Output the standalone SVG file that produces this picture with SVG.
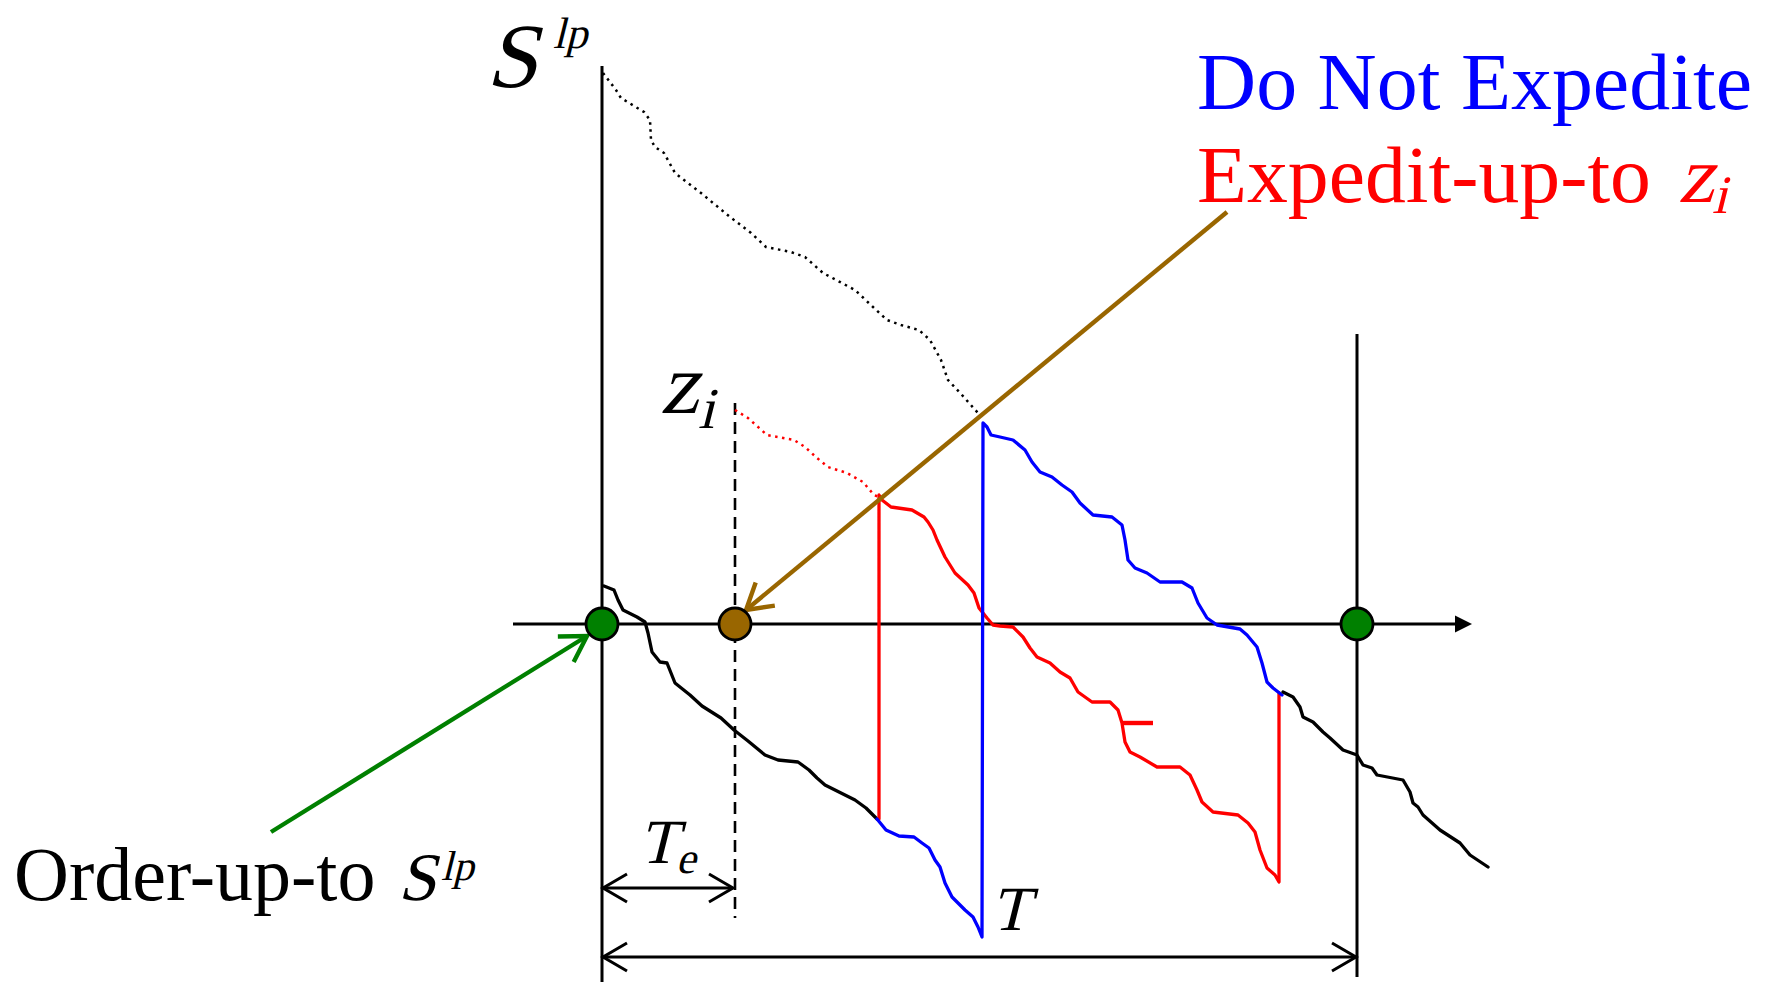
<svg xmlns="http://www.w3.org/2000/svg" width="1772" height="982" viewBox="0 0 1772 982">
<style>
.ax{stroke:#000;stroke-width:3;fill:none}
.crv{fill:none;stroke-width:3.3;stroke-linejoin:round;stroke-linecap:round}
.dot{fill:none;stroke-width:2.5;stroke-dasharray:2.5 4.5;stroke-linecap:butt}
.node{stroke:#000;stroke-width:2.8}
text{font-family:'Liberation Serif';font-style:normal}
</style>
<defs>
<marker id="chevK" markerUnits="userSpaceOnUse" markerWidth="40" markerHeight="40" viewBox="-30 -20 40 40" refX="0" refY="0" orient="auto-start-reverse">
<path d="M-24,-14 L0,0 L-24,14" fill="none" stroke="#000" stroke-width="3"/>
</marker>
<marker id="chevG" markerUnits="userSpaceOnUse" markerWidth="40" markerHeight="40" viewBox="-30 -20 40 40" refX="0" refY="0" orient="auto">
<path d="M-25,-15 L0,0 L-25,15" fill="none" stroke="#008000" stroke-width="4.4"/>
</marker>
<marker id="chevB" markerUnits="userSpaceOnUse" markerWidth="40" markerHeight="40" viewBox="-30 -20 40 40" refX="0" refY="0" orient="auto">
<path d="M-25,-15 L0,0 L-25,15" fill="none" stroke="#996600" stroke-width="4.4"/>
</marker>
</defs>
<rect width="1772" height="982" fill="#fff"/>

<g id="axes">
<line class="ax" x1="602" y1="66" x2="602" y2="982"/>
<line class="ax" x1="513" y1="624" x2="1460" y2="624"/>
<polygon points="1472,624 1455,615.5 1455,632.5" fill="#000"/>
<line class="ax" x1="1357" y1="334" x2="1357" y2="977"/>
<line x1="735" y1="403" x2="735" y2="918" stroke="#000" stroke-width="2.6" stroke-dasharray="12 7"/>
</g>

<g id="curves">
<polyline class="dot" stroke="#000" points="603,73 616,90 621,98 644,112 650,120 651,140 655,147 664,153 675,173 701,193 730,217 751,233 766,247 791,252 805,257 823,273 855,290 873,307 887,320 901,325 919,330 930,340 941,360 948,380 962,395 978,413 980,417"/>
<polyline class="dot" stroke="#ff0000" points="735,410 748,418 767,435 794,440 805,447 817,458 828,467 847,473 863,482 874,495 879,497"/>
<polyline class="crv" stroke="#000" points="604,586 614,590 618,600 623,610 637,617 645,622 648,633 652,652 660,662 667,663 675,683 690,695 702,706 721,718 734,730 748,741 765,755 778,760 798,762 809,770 817,778 825,785 855,800 866,808 877,819"/>
<polyline class="crv" stroke="#ff0000" points="879,819 879,495 882,500 891,507 912,510 924,517 928,522 933,530 937,540 945,557 955,573 968,585 974,593 979,608 983,613 987,618 993,625 1000,626 1013,627 1023,637 1030,648 1037,657 1050,663 1060,672 1070,678 1078,692 1092,702 1110,702 1118,710 1122,723 1125,742 1130,752 1140,757 1157,767 1180,767 1190,775 1197,790 1202,802 1213,812 1238,815 1248,823 1255,832 1260,850 1267,868 1275,875 1279,882 1279,693"/>
<line x1="1122" y1="723" x2="1153" y2="723" stroke="#ff0000" stroke-width="4.4"/>
<polyline class="crv" stroke="#0000ff" points="877,819 886,830 899,836 914,837 922,843 929,848 935,860 940,867 945,883 952,897 965,910 973,917 978,927 982,937 983,423 987,427 991,435 1000,437 1013,440 1025,450 1032,462 1040,472 1052,477 1062,485 1072,492 1080,503 1093,515 1112,517 1122,525 1125,540 1128,560 1135,568 1147,573 1160,582 1182,582 1192,588 1198,603 1207,618 1217,625 1240,629 1247,635 1257,647 1262,663 1267,682 1273,688 1282,695"/>
<polyline class="crv" stroke="#000" points="1283,692 1293,697 1300,707 1303,717 1313,722 1323,732 1330,738 1343,750 1357,755 1363,765 1372,768 1377,775 1403,780 1410,792 1413,803 1418,807 1423,815 1440,830 1460,843 1470,855 1488,867"/>
</g>

<g id="connectors">
<line x1="1227" y1="212" x2="746" y2="610" stroke="#996600" stroke-width="4.4" marker-end="url(#chevB)"/>
<line x1="271" y1="832" x2="587" y2="636" stroke="#008000" stroke-width="4.4" marker-end="url(#chevG)"/>
<line x1="603" y1="888" x2="733" y2="888" stroke="#000" stroke-width="3" marker-start="url(#chevK)" marker-end="url(#chevK)"/>
<line x1="603" y1="957" x2="1356" y2="957" stroke="#000" stroke-width="3" marker-start="url(#chevK)" marker-end="url(#chevK)"/>
</g>

<g id="node-origin"><circle class="node" cx="602" cy="624" r="16" fill="#008000"/></g>
<g id="node-te"><circle class="node" cx="735" cy="624" r="16" fill="#996600"/></g>
<g id="node-T"><circle class="node" cx="1357" cy="624" r="16" fill="#008000"/></g>

<g id="label-slp">
<text transform="translate(486,87) skewX(-14)" font-size="92">S</text>
<text transform="translate(553,48) skewX(-14)" font-size="44">lp</text>
</g>
<g id="label-zi">
<text transform="translate(660,413) skewX(-14)" font-size="86">z</text>
<text transform="translate(698,428) skewX(-14)" font-size="58">i</text>
</g>
<g id="label-legend">
<text x="1197" y="109" font-size="81" fill="#0000ff" textLength="555" lengthAdjust="spacingAndGlyphs">Do Not Expedite</text>
<text x="1197" y="202" font-size="80" fill="#ff0000" textLength="454" lengthAdjust="spacingAndGlyphs">Expedit-up-to</text>
<text transform="translate(1678,202) skewX(-14)" font-size="80" fill="#ff0000">z</text>
<text transform="translate(1712,213) skewX(-14)" font-size="54" fill="#ff0000">i</text>
</g>
<g id="label-order">
<text x="14" y="900" font-size="76">Order-up-to</text>
<text transform="translate(398,900) skewX(-14)" font-size="68">S</text>
<text transform="translate(441,880) skewX(-14)" font-size="42">lp</text>
</g>
<g id="label-te">
<text transform="translate(639,863) skewX(-14)" font-size="63">T</text>
<text transform="translate(676,873) skewX(-14)" font-size="44">e</text>
</g>
<g id="label-T">
<text transform="translate(991,930) skewX(-14)" font-size="63">T</text>
</g>
</svg>
